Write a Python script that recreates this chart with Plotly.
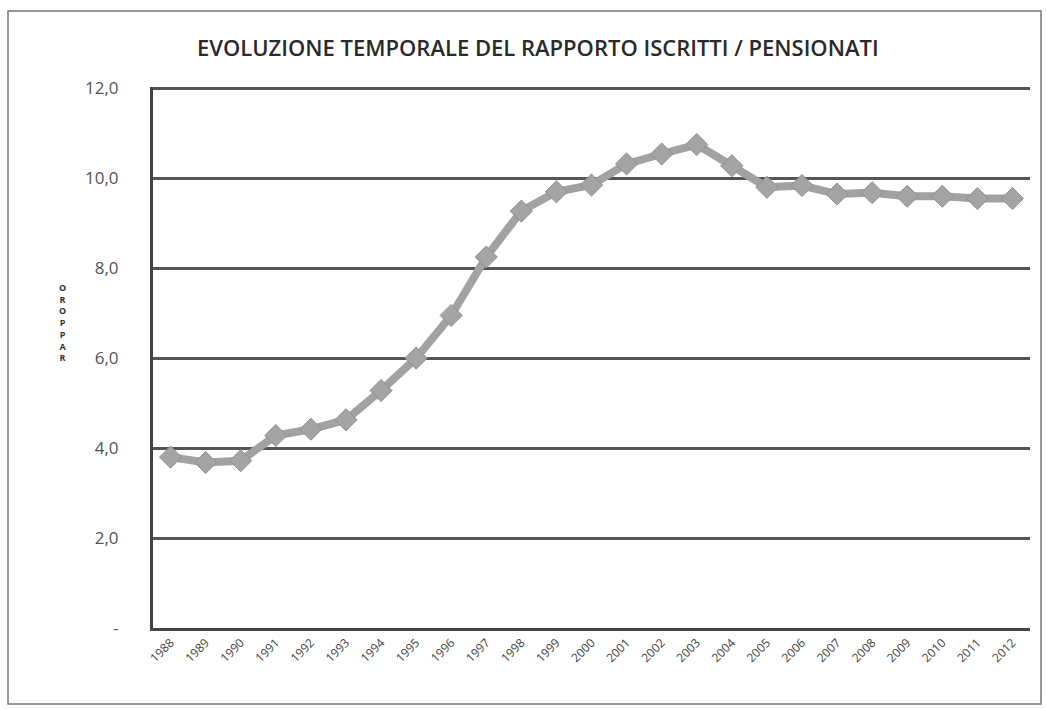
import plotly.graph_objects as go

years = ["1988", "1989", "1990", "1991", "1992", "1993", "1994", "1995", "1996",
         "1997", "1998", "1999", "2000", "2001", "2002", "2003", "2004", "2005",
         "2006", "2007", "2008", "2009", "2010", "2011", "2012"]
ratio = [3.80, 3.68, 3.72, 4.28, 4.42, 4.63, 5.28, 6.00, 6.95,
         8.25, 9.27, 9.70, 9.85, 10.32, 10.54, 10.75, 10.28, 9.80,
         9.84, 9.65, 9.68, 9.60, 9.60, 9.55, 9.55]
y_ticks = [0, 2, 4, 6, 8, 10, 12]
y_ticktext = ["-", "2,0", "4,0", "6,0", "8,0", "10,0", "12,0"]
title_text = "EVOLUZIONE TEMPORALE DEL RAPPORTO ISCRITTI / PENSIONATI"
ytitle_text = "O<br>R<br>O<br>P<br>P<br>A<br>R"

W, H = 1046, 709
L, R, T, B = 153, 16, 87, 81
pw, ph = W - L - R, H - T - B

def px_x(x):
    return (x - L) / pw

def px_y(y):
    return (H - B - y) / ph

fig = go.Figure()
fig.add_trace(go.Scatter(
    x=years, y=ratio, mode="lines+markers",
    line=dict(color="#a2a2a2", width=8),
    marker=dict(symbol="diamond", size=17, color="#a4a4a4",
                line=dict(color="#909090", width=1)),
    showlegend=False,
))

fig.update_layout(
    width=W, height=H,
    margin=dict(l=L, r=R, t=T, b=B),
    paper_bgcolor="white", plot_bgcolor="white",
    font=dict(family="'Open Sans', sans-serif", color="#444"),
    xaxis=dict(
        type="category", tickangle=-45, showgrid=False,
        tickfont=dict(size=12, color="#444"),
        showline=True, linecolor="#444", linewidth=3,
        ticks="", range=[-0.5, len(years) - 0.5],
    ),
    yaxis=dict(
        range=[0, 12.03], tickvals=y_ticks, ticktext=y_ticktext,
        showgrid=True, gridcolor="#555", gridwidth=3,
        zeroline=True, zerolinecolor="#444", zerolinewidth=3,
        showline=True, linecolor="#444", linewidth=3,
        tickfont=dict(size=17, color="#555"),
        ticks="", ticklabelstandoff=28,
    ),
    annotations=[
        dict(text=title_text, xref="paper", yref="paper",
             x=px_x(538), y=px_y(47), xanchor="center", yanchor="middle",
             showarrow=False,
             font=dict(size=22, color="#2a2a2a", family="'Open Sans', sans-serif",
                       weight=600)),
        dict(text=ytitle_text, xref="paper", yref="paper",
             x=px_x(62), y=px_y(322), xanchor="center", yanchor="middle",
             showarrow=False,
             font=dict(size=9, color="#333", family="'Open Sans', sans-serif",
                       weight="bold")),
    ],
    shapes=[
        dict(type="rect", xref="paper", yref="paper",
             x0=px_x(8), x1=px_x(1041), y0=px_y(704), y1=px_y(11),
             line=dict(color="#777", width=1.5), layer="below"),
    ],
)

fig.write_html("out.html", config={"displayModeBar": False},
               post_script="document.body.style.margin='0px';")
